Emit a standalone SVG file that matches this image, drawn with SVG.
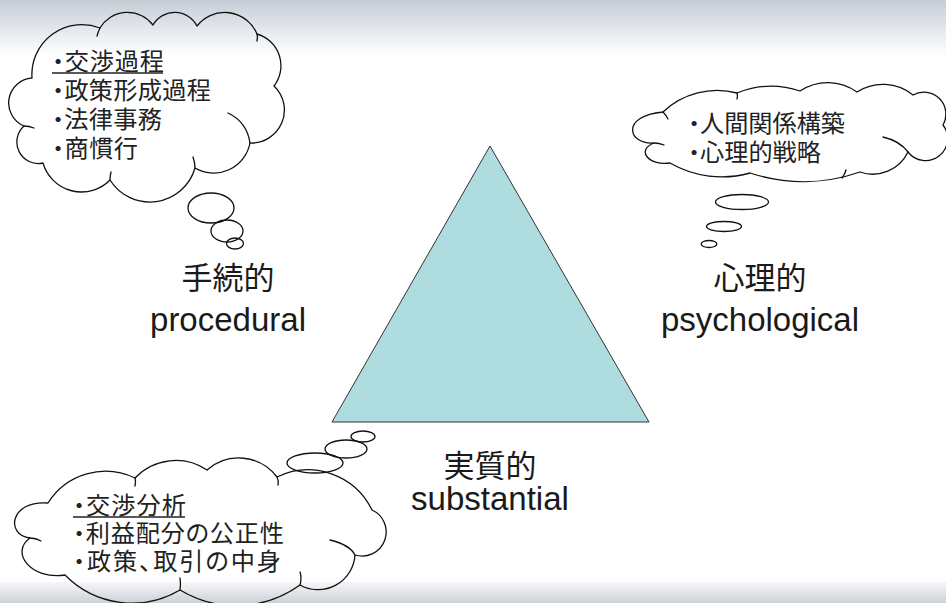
<svg xmlns="http://www.w3.org/2000/svg" width="946" height="603" viewBox="0 0 946 603">
  <defs>
    <linearGradient id="topGrad" x1="0" y1="0" x2="0" y2="1">
      <stop offset="0" stop-color="#c6cdd7"/>
      <stop offset="1" stop-color="#ffffff"/>
    </linearGradient>
    <linearGradient id="botGrad" x1="0" y1="0" x2="0" y2="1">
      <stop offset="0" stop-color="#f6f7f9"/>
      <stop offset="1" stop-color="#ccd1d8"/>
    </linearGradient>
    <style>
      .cloud { fill: none; stroke: #111; stroke-width: 1.3; stroke-linejoin: round; }
      .hook { fill: none; stroke: #111; stroke-width: 1.3; stroke-linecap: round; }
      .bubble { fill: none; stroke: #111; stroke-width: 1.3; }
      .item { font-family: "Noto Sans CJK JP", "Noto Sans", sans-serif; font-size: 24.2px; fill: #222; font-feature-settings: "palt"; }
      .ul { stroke: #222; stroke-width: 1.6; }
      .lblj { font-family: "Noto Sans CJK JP", sans-serif; font-size: 31px; fill: #1a1a1a; text-anchor: middle; }
      .lble { font-family: "Liberation Sans", Arial, sans-serif; font-size: 33px; fill: #1a1a1a; text-anchor: middle; }
    </style>
  </defs>

  <rect x="0" y="0" width="946" height="603" fill="#ffffff"/>
  <rect x="0" y="0" width="946" height="55" fill="url(#topGrad)"/>
  <rect x="0" y="582" width="946" height="21" fill="url(#botGrad)"/>

  <g id="triangle">
    <polygon points="490,146 332,422 649,422" fill="#afdcdf" stroke="#333" stroke-width="1"/>
  </g>

  <g id="cloud-procedural">
    <path class="cloud" d="M32,78 A50,50 0 0 1 100,28 A32,32 0 0 1 153,25 A25,25 0 0 1 197,26 A35,35 0 0 1 257,34 A33,33 0 0 1 274,86 A33,33 0 0 1 250,143 A37,37 0 0 1 195,168 A47,47 0 0 1 110,180 A40,40 0 0 1 43,163 A21.5,21.5 0 0 1 24,126 A25,25 0 0 1 32,78 Z"/>
    <path class="hook" d="M100,28 Q98,32 97,36"/>
    <path class="hook" d="M257,34 Q258,37 257,41"/>
    <path class="hook" d="M228,113 Q247,122 250,143"/>
    <path class="hook" d="M193,157 Q195,163 195,168"/>
    <path class="hook" d="M111,172 Q110,176 110,180"/>
    <path class="hook" d="M24,126 Q29,126 34,128"/>
    <ellipse class="bubble" cx="211" cy="208" rx="23" ry="15"/>
    <ellipse class="bubble" cx="227" cy="231" rx="16" ry="11"/>
    <ellipse class="bubble" cx="235" cy="243.5" rx="8.5" ry="5.5"/>
    <text class="item" x="52" y="70" textLength="112" lengthAdjust="spacing">・交渉過程</text>
    <line class="ul" x1="52" y1="73" x2="163" y2="73"/>
    <text class="item" x="52" y="99" textLength="159" lengthAdjust="spacing">・政策形成過程</text>
    <text class="item" x="52" y="128" textLength="110" lengthAdjust="spacing">・法律事務</text>
    <text class="item" x="52" y="157" textLength="86" lengthAdjust="spacing">・商慣行</text>
  </g>

  <g id="cloud-psychological">
    <path class="cloud" d="M663,112 A79,79 0 0 1 737,93 A91,91 0 0 1 800,91 A50,50 0 0 1 857,92 A48,48 0 0 1 913,95 A22,22 0 0 1 943,125 A22,22 0 0 1 908,152 A39,39 0 0 1 860,172 A172,172 0 0 1 750,173 A104,104 0 0 1 670,163 C648,166 636,150 654,143 C628,145 620,116 663,112 Z"/>
    <path class="hook" d="M663,112 Q666,115 668,119"/>
    <path class="hook" d="M737,93 Q738,96 737,99"/>
    <path class="hook" d="M883,137 Q900,141 908,152"/>
    <path class="hook" d="M846,170 Q845,174 842,178"/>
    <path class="hook" d="M654,143 Q659,143 664,145"/>
    <ellipse class="bubble" cx="742" cy="202" rx="26.5" ry="7.5"/>
    <ellipse class="bubble" cx="724" cy="226.5" rx="17.5" ry="5"/>
    <ellipse class="bubble" cx="709" cy="244" rx="7.8" ry="3.5"/>
    <text class="item" x="688" y="132" textLength="157" lengthAdjust="spacing">・人間関係構築</text>
    <text class="item" x="688" y="161" textLength="133" lengthAdjust="spacing">・心理的戦略</text>
  </g>

  <g id="cloud-substantial">
    <path class="cloud" d="M48,503 A68,68 0 0 1 135,478 A56,56 0 0 1 207,470 A48,48 0 0 1 277,477 A71,71 0 0 1 372,510 A24.1,24.1 0 0 1 355,555 A37,37 0 0 1 300,585 A109,109 0 0 1 180,590 A94,94 0 0 1 65,575 C30,580 10,552 30,538 C5,535 10,500 48,503 Z"/>
    <path class="hook" d="M135,478 Q136,482 135,486"/>
    <path class="hook" d="M277,477 Q279,481 278,485"/>
    <path class="hook" d="M330,540 Q350,545 355,555"/>
    <path class="hook" d="M300,585 Q302,578 300,572"/>
    <path class="hook" d="M180,590 Q181,584 180,578"/>
    <path class="hook" d="M30,538 Q36,538 41,541"/>
    <ellipse class="bubble" cx="315" cy="463" rx="28" ry="10"/>
    <ellipse class="bubble" cx="346" cy="449" rx="21" ry="9"/>
    <ellipse class="bubble" cx="363" cy="436.5" rx="12" ry="5.5"/>
    <text class="item" x="73" y="514" textLength="113" lengthAdjust="spacing">・交渉分析</text>
    <line class="ul" x1="73" y1="517" x2="185" y2="517"/>
    <text class="item" x="73" y="542" textLength="211" lengthAdjust="spacing">・利益配分の公正性</text>
    <text class="item" x="73" y="570" textLength="208" lengthAdjust="spacing">・政策、取引の中身</text>
  </g>

  <g id="label-procedural">
    <text class="lblj" x="228" y="289">手続的</text>
    <text class="lble" x="228" y="331">procedural</text>
  </g>
  <g id="label-psychological">
    <text class="lblj" x="760" y="289">心理的</text>
    <text class="lble" x="760" y="331">psychological</text>
  </g>
  <g id="label-substantial">
    <text class="lblj" x="490" y="477">実質的</text>
    <text class="lble" x="490" y="510">substantial</text>
  </g>

  <g id="connectors"/>
</svg>
